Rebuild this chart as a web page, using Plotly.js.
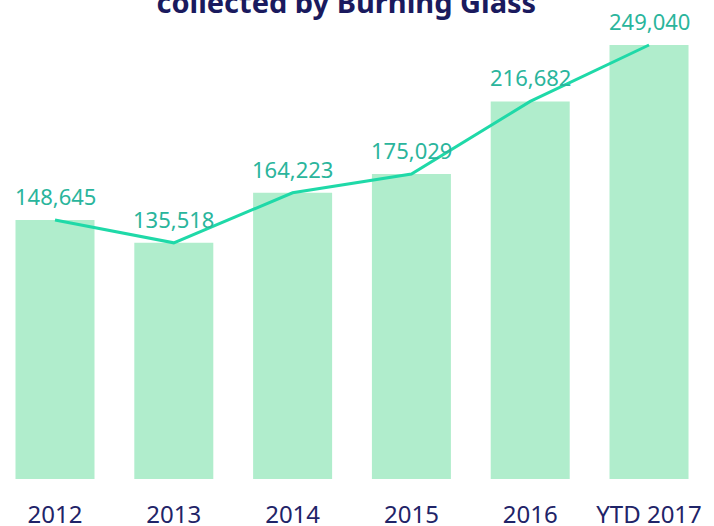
<!DOCTYPE html>
<html>
<head>
<meta charset="utf-8">
<script src="https://cdn.plot.ly/plotly-3.0.1.min.js"></script>
<style>html,body{margin:0;padding:0;background:#fff;}#chart{width:714px;height:526px;}</style>
</head>
<body>
<div id="chart"></div>
<script>
const categories = ["2012", "2013", "2014", "2015", "2016", "YTD 2017"];
const values = [148645, 135518, 164223, 175029, 216682, 249040];
const labels = ["148,645", "135,518", "164,223", "175,029", "216,682", "249,040"];
const titleText = "collected by Burning Glass";

const idx = categories.map((c, i) => i);

const bars = {
  type: "bar",
  x: idx,
  y: values,
  width: 0.665,
  marker: {color: "#B0EDCC"},
  hoverinfo: "skip",
  showlegend: false
};
const line = {
  type: "scatter",
  mode: "lines",
  x: idx,
  y: values,
  line: {color: "#1FD9A8", width: 3},
  showlegend: false
};

const annotations = idx.map(i => ({
  x: i,
  y: values[i],
  xref: "x",
  yref: "y",
  text: labels[i],
  showarrow: false,
  xanchor: "center",
  yanchor: "bottom",
  yshift: 7,
  font: {family: "Noto Sans", size: 22, color: "#2AB59C"}
}));

const layout = {
  width: 714,
  height: 526,
  margin: {l: 0, r: 0, t: 30, b: 47},
  paper_bgcolor: "#ffffff",
  plot_bgcolor: "#ffffff",
  title: {
    text: "<b>" + titleText + "</b>",
    font: {family: "Noto Sans", size: 29, color: "#1A1A5E"},
    x: 0.485, xanchor: "center",
    yref: "container", y: 0.994, yanchor: "middle"
  },
  xaxis: {
    range: [-0.463, 5.547],
    tickvals: idx,
    ticktext: categories,
    tickfont: {family: "Noto Sans", size: 24, color: "#1F2468"},
    showgrid: false, zeroline: false, showline: false,
    ticks: "outside", ticklen: 14, tickcolor: "rgba(0,0,0,0)"
  },
  yaxis: {
    range: [0, 257647],
    visible: false,
    showgrid: false, zeroline: false
  },
  annotations: annotations,
  font: {family: "Noto Sans"}
};

Plotly.newPlot("chart", [bars, line], layout, {displayModeBar: false, staticPlot: true});
</script>
</body>
</html>
